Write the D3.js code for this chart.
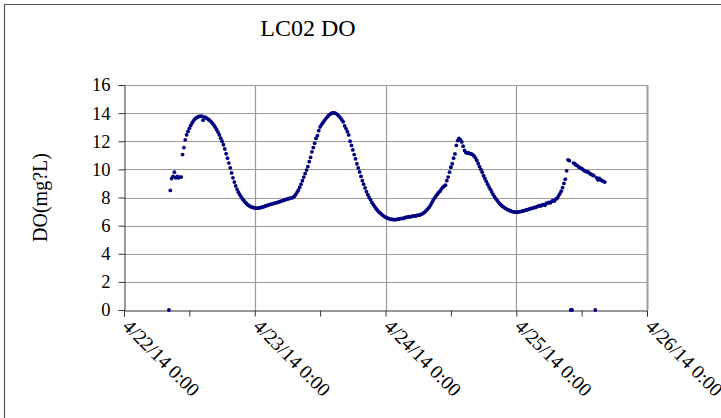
<!DOCTYPE html>
<html><head><meta charset="utf-8">
<script src="https://cdn.jsdelivr.net/npm/d3@7/dist/d3.min.js"></script>
<style>
body{margin:0;background:#fff}
svg{display:block}
svg text{font-family:"Liberation Serif","Times New Roman",serif !important;fill:#000}
</style>
</head><body>
<svg id="c" width="721" height="418"></svg>
<script>
const chartTitle = "LC02 DO";
const yAxisLabel = "DO(mg?L)";
const xTickDates = ["2014-04-22T00:00","2014-04-23T00:00","2014-04-24T00:00","2014-04-25T00:00","2014-04-26T00:00"];
const xTickLabels = ["4/22/14 0:00","4/23/14 0:00","4/24/14 0:00","4/25/14 0:00","4/26/14 0:00"];
const xMinorTickDates = ["2014-04-22T12:00","2014-04-23T12:00","2014-04-24T12:00","2014-04-25T12:00"];
const yTickValues = [0,2,4,6,8,10,12,14,16];
const sampleStart = "2014-04-22T08:15";
const sampleStepMinutes = 15;
// DO readings (mg/L), one every 15 minutes from sampleStart
const doValues = [
  0, 8.5, 9.35, 9.5, 9.8, 9.4, 9.5, 9.4, 9.45, 9.45, 11.05, 11.55,            // 8:15 - 11:00
  12.1, 12.45, 12.7, 12.92, 13.12, 13.3, 13.45, 13.57, 13.66, 13.72, 13.76, 13.77, // 11:15 - 14:00
  13.78, 13.5, 13.74, 13.68, 13.62, 13.55, 13.48, 13.38, 13.27, 13.15, 13.0, 12.82, // 14:15 - 17:00
  12.65, 12.45, 12.22, 12.0, 11.75, 11.45, 11.12, 10.8, 10.45, 10.1, 9.75, 9.4,    // 17:15 - 20:00
  9.1, 8.82, 8.58, 8.38, 8.2, 8.05, 7.9, 7.78, 7.66, 7.56, 7.47, 7.4,              // 20:15 - 23:00
  7.35, 7.31, 7.28, 7.26, 7.25, 7.25, 7.26, 7.27, 7.3, 7.33, 7.36, 7.4,            // 23:15 - 26:00
  7.43, 7.46, 7.5, 7.52, 7.55, 7.58, 7.6, 7.63, 7.66, 7.7, 7.73, 7.76,             // 26:15 - 29:00
  7.8, 7.83, 7.86, 7.9, 7.92, 7.95, 7.98, 8.0, 8.08, 8.2, 8.35, 8.52,              // 29:15 - 32:00
  8.72, 8.95, 9.2, 9.45, 9.7, 9.95, 10.2, 10.55, 10.85, 11.25, 11.55, 11.85,       // 32:15 - 35:00
  12.2, 12.4, 12.75, 13.02, 13.18, 13.3, 13.45, 13.58, 13.7, 13.82, 13.9, 13.97,   // 35:15 - 38:00
  14.01, 14.02, 14.0, 13.95, 13.87, 13.77, 13.65, 13.52, 13.38, 13.1, 12.9, 12.68, // 38:15 - 41:00
  12.45, 12.0, 11.7, 11.38, 11.05, 10.75, 10.4, 10.1, 9.82, 9.5, 9.2, 8.95,        // 41:15 - 44:00
  8.68, 8.42, 8.2, 8.0, 7.85, 7.66, 7.5, 7.36, 7.22, 7.1, 6.98, 6.9,               // 44:15 - 47:00
  6.82, 6.73, 6.66, 6.6, 6.55, 6.51, 6.48, 6.45, 6.44, 6.43, 6.42, 6.44,           // 47:15 - 50:00
  6.45, 6.47, 6.5, 6.52, 6.5, 6.56, 6.58, 6.6, 6.63, 6.62, 6.66, 6.68,             // 50:15 - 53:00
  6.7, 6.68, 6.72, 6.75, 6.74, 6.8, 6.84, 6.9, 6.98, 7.08, 7.18, 7.3,              // 53:15 - 56:00
  7.45, 7.62, 7.8, 7.95, 8.1, 8.22, 8.35, 8.45, 8.6, 8.72, 8.8, 8.88,              // 56:15 - 59:00
  9.2, 9.45, 9.8, 10.15, 10.4, 10.8, 11.1, 11.7, 12.05, 12.2, 12.1, 11.95,         // 59:15 - 62:00
  11.65, 11.35, 11.2, 11.15, 11.18, 11.12, 11.1, 11.05, 10.95, 10.82, 10.65, 10.42, // 62:15 - 65:00
  10.2, 10.0, 9.8, 9.55, 9.35, 9.15, 8.95, 8.75, 8.58, 8.4, 8.22, 8.06,            // 65:15 - 68:00
  7.92, 7.8, 7.66, 7.55, 7.45, 7.37, 7.3, 7.23, 7.18, 7.12, 7.08, 7.04,            // 68:15 - 71:00
  7.0, 6.98, 6.96, 6.95, 6.96, 6.98, 7.0, 7.02, 7.05, 7.07, 7.1, 7.13,             // 71:15 - 74:00
  7.16, 7.19, 7.22, 7.25, 7.28, 7.3, 7.33, 7.38, 7.42, 7.4, 7.48, 7.5,             // 74:15 - 77:00
  7.45, 7.58, 7.6, 7.66, 7.62, 7.72, 7.8, 7.75, 7.88, 7.95, 8.1, 8.26,             // 77:15 - 80:00
  8.45, 8.7, 9.0, 9.3, 9.9, 10.68, 10.62, 0, 0, 10.45, 10.4, 10.3,                 // 80:15 - 83:00
  10.25, 10.15, 10.1, 10.05, 10.0, 9.9, 9.88, 9.82, 9.8, 9.7, 9.65, 9.6,           // 83:15 - 86:00
  9.55, 0, 9.4, 9.25, 9.35, 9.25, 9.2, 9.15, 9.1                                   // 86:15 - 88:15
];

const parse = d3.timeParse("%Y-%m-%dT%H:%M");
const t0 = parse(sampleStart);
const data = doValues.map((v, i) => ({ t: d3.timeMinute.offset(t0, i * sampleStepMinutes), v }));

const svg = d3.select("#c");
const W = 721, H = 418;
const plot = { left: 124, right: 647, top: 85, bottom: 310 };
const serif = '"Liberation Serif","Times New Roman",serif';

// outer frame
svg.append("path")
  .attr("d", `M4.5,${H + 2}V4.5H${W + 2}`)
  .attr("fill", "none").attr("stroke", "#555").attr("stroke-width", 1.2);

const x = d3.scaleTime()
  .domain([parse(xTickDates[0]), parse(xTickDates[xTickDates.length - 1])])
  .range([plot.left, plot.right]);
const y = d3.scaleLinear().domain([0, 16]).range([plot.bottom, plot.top]);

// gridlines
const g = svg.append("g");
g.selectAll("line.hg").data(yTickValues.filter(d => d > 0)).join("line")
  .attr("x1", plot.left).attr("x2", plot.right)
  .attr("y1", d => Math.round(y(d)) + 0.5).attr("y2", d => Math.round(y(d)) + 0.5)
  .attr("stroke", "#9a9a9a").attr("stroke-width", 1.2);
g.selectAll("line.vg").data(xTickDates.slice(1).map(parse)).join("line")
  .attr("y1", plot.top).attr("y2", plot.bottom)
  .attr("x1", d => Math.round(x(d)) + 0.5).attr("x2", d => Math.round(x(d)) + 0.5)
  .attr("stroke", "#9a9a9a").attr("stroke-width", 1.2);
g.append("line").attr("x1", plot.right + 0.5).attr("x2", plot.right + 0.5)
  .attr("y1", plot.top).attr("y2", plot.bottom).attr("stroke", "#a0a0a0").attr("stroke-width", 2);

// y axis
const yAxis = d3.axisLeft(y).tickValues(yTickValues).tickSize(6).tickPadding(8).tickFormat(d3.format("d"));
const ya = svg.append("g").attr("transform", `translate(${plot.left + 0.5},0)`).call(yAxis)
  .attr("font-family", serif);
ya.select(".domain").attr("stroke", "#333");
ya.selectAll(".tick line").attr("stroke", "#333");
ya.selectAll("text").style("font-size", "18.5px").style("font-family", serif);

// x axis
const xa = svg.append("g").attr("transform", `translate(0,${plot.bottom + 0.5})`);
xa.call(d3.axisBottom(x).tickValues(xTickDates.map(parse)).tickSize(6)
  .tickFormat((d, i) => xTickLabels[i]));
xa.attr("font-family", serif);
xa.select(".domain").attr("stroke", "#333");
xa.selectAll(".tick line").attr("stroke", "#333");
xa.selectAll(".tick text")
  .style("font-size", "19.5px").style("font-family", serif)
  .attr("text-anchor", "start")
  .attr("dy", null)
  .attr("y", 0)
  .attr("transform", "translate(-3,17) rotate(45)");
const xm = svg.append("g").attr("transform", `translate(0,${plot.bottom + 0.5})`)
  .call(d3.axisBottom(x).tickValues(xMinorTickDates.map(parse)).tickSize(6).tickFormat(""));
xm.select(".domain").remove();
xm.selectAll(".tick line").attr("stroke", "#333");

// points
svg.append("g").selectAll("circle").data(data).join("circle")
  .attr("cx", d => x(d.t)).attr("cy", d => y(d.v)).attr("r", 1.9)
  .attr("fill", "#000080");

// title
svg.append("text").attr("x", 308).attr("y", 36).attr("text-anchor", "middle")
  .style("font-size", "24px").style("font-family", serif).text(chartTitle);

// y label
svg.append("text").attr("transform", `translate(47,${(plot.top + plot.bottom) / 2}) rotate(-90)`)
  .attr("text-anchor", "middle").style("font-size", "20px").style("font-family", serif).text(yAxisLabel);
</script>
</body></html>
